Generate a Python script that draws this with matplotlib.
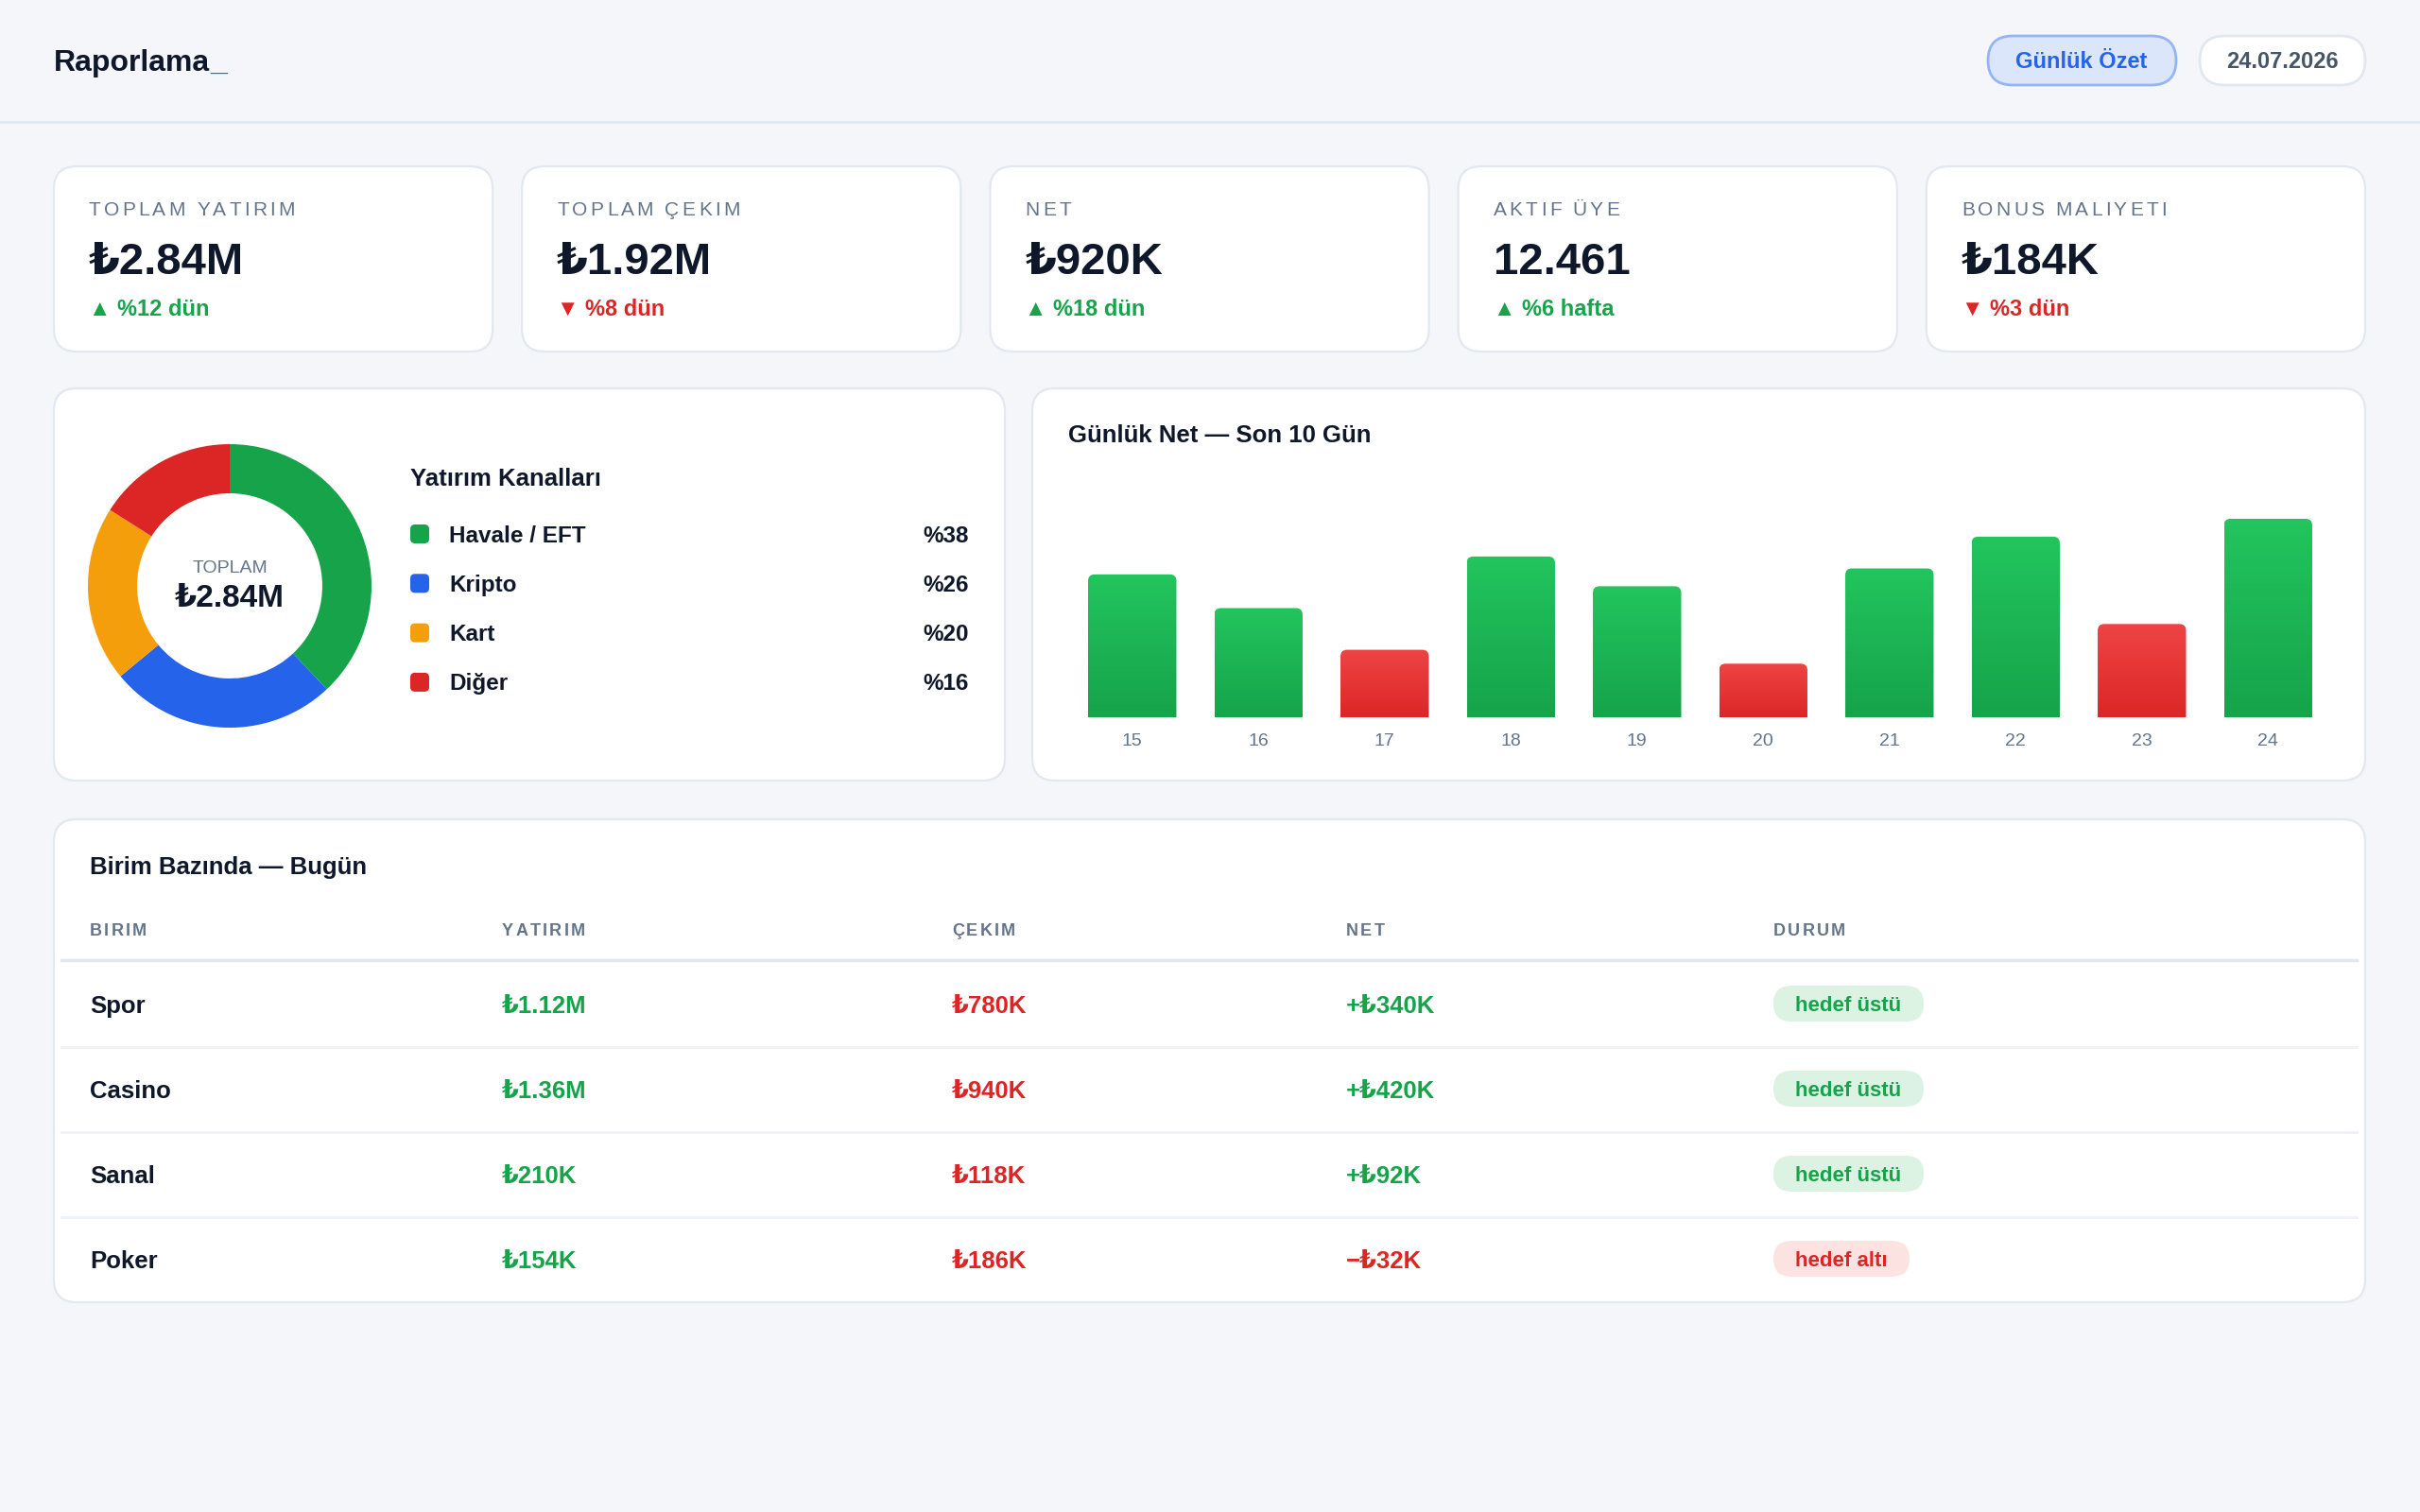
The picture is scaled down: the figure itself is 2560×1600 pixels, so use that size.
import numpy as np
import matplotlib
matplotlib.use("Agg")
import matplotlib.pyplot as plt
from matplotlib.patches import FancyBboxPatch
from matplotlib.colors import LinearSegmentedColormap

plt.rcParams['font.family'] = ['Liberation Sans', 'DejaVu Sans']

# --- data ---
kpi_labels = ["TOPLAM YATIRIM", "TOPLAM ÇEKIM", "NET", "AKTIF ÜYE", "BONUS MALIYETI"]
kpi_values = ["₺2.84M", "₺1.92M", "₺920K", "12.461", "₺184K"]
kpi_deltas = ["%12 dün", "%8 dün", "%18 dün", "%6 hafta", "%3 dün"]
kpi_up = [True, False, True, True, False]

channel_names = ["Havale / EFT", "Kripto", "Kart", "Diğer"]
channel_share = [38, 26, 20, 16]
channel_colors = ["#16a34a", "#2563eb", "#f59e0b", "#dc2626"]

days = ["15", "16", "17", "18", "19", "20", "21", "22", "23", "24"]
daily_net = [72, 55, -34, 81, 66, -27, 75, 91, -47, 100]

units = ["Spor", "Casino", "Sanal", "Poker"]
unit_deposit = ["₺1.12M", "₺1.36M", "₺210K", "₺154K"]
unit_withdraw = ["₺780K", "₺940K", "₺118K", "₺186K"]
unit_net = ["+₺340K", "+₺420K", "+₺92K", "−₺32K"]
unit_status = ["hedef üstü", "hedef üstü", "hedef üstü", "hedef altı"]
table_cols = ["BIRIM", "YATIRIM", "ÇEKIM", "NET", "DURUM"]

DARK = "#0f172a"
GREY = "#64748b"
GREEN = "#16a34a"
RED = "#dc2626"
EDGE = "#e2e8f0"
BG = "#f4f6fa"

W, H = 2560, 1600
fig = plt.figure(figsize=(W / 100, H / 100), dpi=100, facecolor=BG)
bg = fig.add_axes([0, 0, 1, 1])
bg.set_xlim(0, W)
bg.set_ylim(H, 0)
bg.axis("off")
bg.set_facecolor(BG)
renderer = fig.canvas.get_renderer()


def rbox(x0, y0, x1, y1, r, fc, ec=EDGE, lw=1.6, z=1):
    p = FancyBboxPatch((x0, y0), x1 - x0, y1 - y0,
                       boxstyle=f"round,pad=0,rounding_size={r}",
                       fc=fc, ec=ec, lw=lw, zorder=z)
    bg.add_patch(p)
    return p


def spaced(x, y, s, gap, **kw):
    for ch in s:
        t = bg.text(x, y, ch, **kw)
        x += t.get_window_extent(renderer).width + gap


# header
t = bg.text(57, 67, "Raporlama", fontsize=23, fontweight="bold", color=DARK, va="center")
tw = t.get_window_extent(renderer).width
bg.text(57 + tw, 67, "_", fontsize=23, fontweight="bold", color="#2563eb", va="center")
bg.plot([0, W], [129, 129], color=EDGE, lw=2)

rbox(2103, 38, 2302, 90, 26, "#dbe6fb", ec="#93b4f5", lw=2)
bg.text(2202, 66, "Günlük Özet", fontsize=17, fontweight="bold", color="#2563eb", ha="center", va="center")
rbox(2327, 38, 2502, 90, 26, "white", lw=2)
bg.text(2414, 66, "24.07.2026", fontsize=17, fontweight="bold", color="#475569", ha="center", va="center")

# KPI cards
card_w = (2502 - 57 - 4 * 31) / 5
for i in range(5):
    x0 = 57 + i * (card_w + 31)
    rbox(x0, 176, x0 + card_w, 372, 24, "white")
    spaced(x0 + 37, 222, kpi_labels[i], 3.2, fontsize=15, color=GREY, va="center")
    bg.text(x0 + 37, 278, kpi_values[i], fontsize=34, fontweight="bold", color=DARK, va="center")
    col = GREEN if kpi_up[i] else RED
    arrow = "▲" if kpi_up[i] else "▼"
    bg.text(x0 + 37, 327, arrow + " " + kpi_deltas[i], fontsize=17, fontweight="bold", color=col, va="center")

# donut card
rbox(57, 411, 1063, 826, 24, "white")
dax = fig.add_axes([93 / W, 1 - 770 / H, 300 / W, 300 / H])
dax.pie(channel_share, colors=channel_colors, startangle=90, counterclock=False,
        radius=1, wedgeprops=dict(width=0.347, edgecolor="none"))
dax.set_xlim(-1, 1)
dax.set_ylim(-1, 1)
dax.set_aspect("equal")
dax.axis("off")
bg.text(243, 601, "TOPLAM", fontsize=14, color=GREY, ha="center", va="center")
bg.text(243, 634, kpi_values[0], fontsize=24, fontweight="bold", color=DARK, ha="center", va="center")

bg.text(434, 507, "Yatırım Kanalları", fontsize=18.5, fontweight="bold", color=DARK, va="center")
for i, name in enumerate(channel_names):
    y = 567 + i * 52.3
    rbox(434, y - 12, 454, y + 8, 5, channel_colors[i], ec="none", lw=0, z=2)
    bg.text(475, y, name, fontsize=17.5, fontweight="bold", color=DARK, va="center")
    bg.text(1025, y, f"%{channel_share[i]}", fontsize=17.5, fontweight="bold", color=DARK,
            ha="right", va="center")

# bar card
rbox(1092, 411, 2502, 826, 24, "white")
bg.text(1130, 461, "Günlük Net — Son 10 Gün", fontsize=18.5, fontweight="bold", color=DARK, va="center")

ymax = 110
ax_l, ax_r = 1151, 2446
ax_b = 759
ax_t = ax_b - 2.1 * ymax
bax = fig.add_axes([ax_l / W, 1 - ax_b / H, (ax_r - ax_l) / W, (ax_b - ax_t) / H])
bax.set_facecolor("none")
x = np.arange(len(days))
heights = [abs(v) for v in daily_net]
bars = bax.bar(x, heights, width=0.7)
bax.set_xlim(-0.35, len(days) - 0.65)
bax.set_ylim(0, ymax)
for s in bax.spines.values():
    s.set_visible(False)
bax.set_yticks([])
bax.set_xticks(x, days)
bax.tick_params(axis="x", length=0, pad=12, labelsize=14, labelcolor=GREY)

xppu = (ax_r - ax_l) / (len(days) - 0.3)
yppu = (ax_b - ax_t) / ymax
r_px = 7
cm_green = LinearSegmentedColormap.from_list("g", ["#16a34a", "#22c55e"])
cm_red = LinearSegmentedColormap.from_list("r", ["#dc2626", "#ef4444"])
grad = np.linspace(0, 1, 256).reshape(-1, 1)
for b, v in zip(bars, daily_net):
    b.set_visible(False)
    bx, bw, bh = b.get_x(), b.get_width(), b.get_height()
    clip = FancyBboxPatch((bx, -20), bw, bh + 20,
                          boxstyle=f"round,pad=0,rounding_size={r_px / xppu}",
                          mutation_aspect=xppu / yppu, fc="none", ec="none")
    bax.add_patch(clip)
    im = bax.imshow(grad, extent=(bx, bx + bw, 0, bh), origin="lower", aspect="auto",
                    cmap=cm_green if v >= 0 else cm_red, interpolation="bicubic")
    im.set_clip_path(clip)
bax.set_xlim(-0.35, len(days) - 0.65)
bax.set_ylim(0, ymax)

# table card
rbox(57, 867, 2502, 1378, 24, "white")
bg.text(95, 918, "Birim Bazında — Bugün", fontsize=18.5, fontweight="bold", color=DARK, va="center")
col_x = [95, 531, 1007, 1424, 1876]
for cx, name in zip(col_x, table_cols):
    spaced(cx, 985, name, 2.2, fontsize=13, fontweight="bold", color=GREY, va="center")
bg.plot([65, 2493], [1016, 1016], color=EDGE, lw=2.5)
for i in range(len(units)):
    y = 1063 + i * 90
    if i > 0:
        bg.plot([65, 2493], [y - 45, y - 45], color="#eef1f5", lw=2)
    ty = y + 2
    bg.text(col_x[0], ty, units[i], fontsize=18.5, fontweight="bold", color=DARK, va="center")
    bg.text(col_x[1], ty, unit_deposit[i], fontsize=18.5, fontweight="bold", color=GREEN, va="center")
    bg.text(col_x[2], ty, unit_withdraw[i], fontsize=18.5, fontweight="bold", color=RED, va="center")
    neg = unit_net[i].startswith("−")
    bg.text(col_x[3], ty, unit_net[i], fontsize=18.5, fontweight="bold", color=RED if neg else GREEN, va="center")
    up = unit_status[i] == "hedef üstü"
    pill_w = 159 if up else 144
    rbox(1876, y - 20, 1876 + pill_w, y + 18, 19, "#dcf3e4" if up else "#fde2e2", ec="none", lw=0)
    bg.text(1876 + pill_w / 2, y + 1, unit_status[i], fontsize=16, fontweight="bold",
            color=GREEN if up else RED, ha="center", va="center")

fig.savefig("out.png", dpi=100, facecolor=BG)
